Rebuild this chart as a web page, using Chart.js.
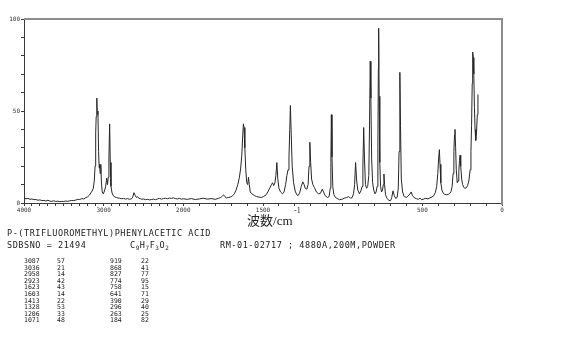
<!DOCTYPE html>
<html>
<head>
<meta charset="utf-8">
<script src="https://cdn.jsdelivr.net/npm/chart.js@4/dist/chart.umd.min.js"></script>
<style>
  body { margin: 0; background: #fff; }
  #wrap { position: relative; width: 570px; height: 342px; overflow: hidden; }
  #spec { position: absolute; left: 0; top: 0; }
  .txt { position: absolute; white-space: pre; color: #222; }
  .mono { font-family: "DejaVu Sans Mono", monospace; font-size: 8.5px; line-height: 9px; letter-spacing: 0.55px; }
  .tbl { font-family: "DejaVu Sans Mono", monospace; font-size: 6.5px; line-height: 6.6px; }
  .axt { font-size: 13px; line-height: 13px; }
  sub { font-size: 6px; vertical-align: -2px; line-height: 0; }
</style>
</head>
<body>
<div id="wrap">
  <canvas id="spec" width="570" height="230"></canvas>
  <div class="txt axt" style="left:247px; top:213px;"><span style="font-family:'Noto Sans CJK JP';">波数</span><span style="font-family:'Liberation Serif';">/cm</span></div>
  <div class="txt" style="left:294px; top:206px; font-family:'Liberation Serif'; font-size:8px;">-1</div>
  <div class="txt mono" style="left:7px; top:229px;">P-(TRIFLUOROMETHYL)PHENYLACETIC ACID</div>
  <div class="txt mono" style="left:7px; top:241px;">SDBSNO = 21494</div>
  <div class="txt mono" style="left:130px; top:241px;">C<sub>9</sub>H<sub>7</sub>F<sub>3</sub>O<sub>2</sub></div>
  <div class="txt mono" style="left:220px; top:241px;">RM-01-02717 ; 4880A,200M,POWDER</div>
  <div id="peaks"></div>
</div>
<script>
// Raman shift (cm-1) / intensity pairs
const spectrum = [
  [4000, 2.6], [3975, 2.3], [3950, 2.5], [3925, 2.0], [3900, 2.2], [3875, 1.8], [3850, 1.9], [3825, 1.5],
  [3800, 1.7], [3775, 1.3], [3750, 1.4], [3725, 1.1], [3700, 1.5], [3675, 1.0], [3650, 0.9], [3625, 1.2],
  [3600, 0.8], [3575, 1.0], [3550, 0.7], [3525, 0.9], [3500, 0.8], [3475, 1.1], [3450, 0.9], [3425, 1.2],
  [3400, 1.4], [3375, 1.3], [3350, 1.6], [3325, 2.0], [3300, 1.9], [3275, 2.4], [3250, 2.2], [3225, 2.9],
  [3200, 3.4], [3180, 4.2], [3160, 5.5], [3145, 6.5], [3130, 8], [3118, 12], [3108, 20], [3100, 38],
  [3094, 47], [3086, 57], [3080, 48], [3072, 50], [3064, 28], [3056, 19], [3050, 21], [3044, 16],
  [3036, 21], [3028, 11], [3018, 6], [3005, 5], [2990, 6.5], [2975, 9], [2962, 13.5], [2952, 10],
  [2942, 14], [2934, 25], [2925, 43], [2917, 22], [2908, 9], [2895, 5.5], [2880, 4], [2860, 3.3],
  [2840, 3.0], [2820, 2.7], [2800, 2.6], [2775, 2.3], [2750, 2.5], [2725, 2.1], [2700, 2.4], [2675, 2.0],
  [2650, 2.3], [2635, 3.2], [2620, 5.6], [2605, 4.2], [2590, 3.0], [2575, 3.5], [2560, 2.6], [2540, 2.4],
  [2520, 2.0], [2500, 2.2], [2475, 1.8], [2450, 2.0], [2425, 1.7], [2400, 1.9], [2375, 2.1], [2350, 1.8],
  [2325, 2.2], [2300, 2.5], [2275, 2.1], [2250, 2.4], [2225, 2.6], [2200, 2.3], [2175, 2.7], [2150, 2.5],
  [2125, 2.8], [2100, 2.4], [2075, 2.2], [2050, 2.5], [2025, 2.1], [2000, 2.3], [1975, 2.0], [1950, 2.4],
  [1925, 1.9], [1900, 2.2], [1875, 2.6], [1850, 2.1], [1825, 2.4], [1800, 2.0], [1780, 2.5], [1765, 3.0],
  [1755, 3.8], [1748, 4.4], [1740, 3.5], [1730, 2.8], [1715, 3.0], [1700, 3.4], [1690, 4.0], [1680, 5.0],
  [1669, 7], [1658, 10], [1648, 14], [1640, 19], [1633, 26], [1627, 37], [1623, 43], [1619, 41],
  [1614, 30], [1608, 18], [1602, 11], [1596, 10], [1591, 14], [1586, 10], [1580, 6], [1570, 5],
  [1553, 4], [1540, 3.5], [1525, 3.2], [1510, 3.0], [1495, 3.6], [1480, 4.5], [1470, 6], [1458, 8],
  [1447, 10], [1440, 11], [1433, 9.5], [1425, 11], [1419, 15], [1413, 22], [1407, 13], [1400, 8],
  [1390, 6], [1378, 5], [1368, 6], [1358, 10], [1350, 15], [1343, 18], [1337, 25], [1332, 40],
  [1328, 53], [1323, 38], [1317, 20], [1308, 11], [1298, 6.5], [1288, 4.5], [1280, 4], [1270, 5.5],
  [1260, 9], [1250, 11.5], [1242, 10], [1235, 8], [1225, 7.5], [1217, 10], [1211, 20], [1206, 33],
  [1201, 22], [1195, 13], [1187, 10], [1178, 8.5], [1165, 6], [1152, 5], [1140, 5.2], [1128, 7.5],
  [1120, 6], [1110, 4], [1095, 3], [1085, 3.5], [1078, 8], [1074, 22], [1071, 48], [1067, 25],
  [1062, 9], [1055, 4.5], [1045, 3], [1035, 2.5], [1020, 1.8], [1005, 2.0], [990, 2.6], [975, 3.0],
  [962, 3.5], [952, 2.6], [940, 3.0], [932, 5], [925, 10], [919, 22], [912, 12], [905, 7],
  [895, 5], [886, 6.5], [878, 9], [873, 20], [868, 41], [863, 24], [857, 10], [850, 8],
  [843, 9], [836, 15], [831, 45], [827, 77], [823, 57], [818, 24], [812, 11], [805, 7],
  [797, 5], [790, 6], [784, 9], [779, 30], [776, 73], [774, 95], [771, 58], [767, 22],
  [762, 9], [756, 6], [750, 7], [745, 10], [741, 15.7], [737, 10], [731, 4.5], [722, 2.5],
  [710, 1.5], [700, 1.2], [692, 3], [684, 6.6], [676, 4], [667, 2.5], [658, 3], [651, 8],
  [646, 28], [641, 71], [637, 42], [632, 13], [624, 6], [614, 3.5], [600, 3], [590, 3.8],
  [578, 4.8], [570, 6], [562, 4], [550, 2.8], [538, 2.4], [525, 2], [515, 2.6], [503, 1.8],
  [490, 2.2], [478, 2.6], [465, 2.2], [452, 2.8], [440, 3.2], [428, 4], [418, 5.8], [410, 9],
  [403, 16], [398, 24], [393, 29], [389, 21], [384, 11], [377, 7], [370, 5.5], [360, 4.7],
  [350, 4.5], [338, 4.6], [328, 5.2], [320, 6.2], [313, 9], [307, 16], [302, 28], [298, 37],
  [295, 40], [291, 30], [287, 18], [281, 11], [276, 12], [271, 17], [267, 23], [263, 26],
  [259, 20], [253, 13], [247, 10], [240, 8.5], [232, 8], [224, 8.3], [216, 9.5], [208, 12],
  [200, 18], [195, 28], [191, 42], [187, 65], [184, 82], [180, 79], [177, 70], [173, 52],
  [169, 40], [165, 34], [160, 38], [155, 48], [151, 59]
];

// peak list printed under the chart
const peakShifts = [3087, 3036, 2958, 2923, 1623, 1603, 1413, 1328, 1206, 1071,
                    919, 868, 827, 774, 758, 641, 390, 296, 263, 184];
const peakIntensities = [57, 21, 14, 42, 43, 14, 22, 53, 33, 48,
                         22, 41, 77, 95, 15, 71, 29, 40, 25, 82];

const xTickLabels = [4000, 3000, 2000, 1500, 500, 0];
const yTickLabels = [0, 50, 100];
const xMinorStep = 100;
const xBreak = 2000; // above this the axis is compressed 2:1

// x axis: 4000-2000 drawn at half the scale of 2000-0
class BrokenScale extends Chart.LinearScale {
  buildTicks() {
    const ticks = [];
    for (let v = 0; v <= 4000; v += xMinorStep) ticks.push({ value: v });
    return ticks;
  }
  toUnits(v) {
    return v > xBreak ? xBreak + (v - xBreak) / 2 : v;
  }
  getPixelForValue(value) {
    const full = this.toUnits(4000);
    return this.getPixelForDecimal(1 - this.toUnits(value) / full);
  }
  getValueForPixel(pixel) {
    const full = this.toUnits(4000);
    const u = (1 - this.getDecimalForPixel(pixel)) * full;
    return u > xBreak ? xBreak + (u - xBreak) * 2 : u;
  }
}
BrokenScale.id = "broken";
BrokenScale.defaults = {};
Chart.register(BrokenScale);

// top and right frame lines
const frame = {
  id: "frame",
  afterDraw(chart) {
    const { ctx, chartArea: a } = chart;
    ctx.save();
    ctx.strokeStyle = "#8c8c8c";
    ctx.lineWidth = 2;
    ctx.beginPath();
    ctx.moveTo(a.left, a.top);
    ctx.lineTo(a.right, a.top);
    ctx.lineTo(a.right, a.bottom + 2);
    ctx.stroke();
    ctx.restore();
  },
};

const tickFont = { family: "DejaVu Sans Mono", size: 6 };

new Chart(document.getElementById("spec"), {
  type: "line",
  data: {
    datasets: [{
      data: spectrum.map(([x, y]) => ({ x, y })),
      borderColor: "#262626",
      borderWidth: 1,
      pointRadius: 0,
      tension: 0,
    }],
  },
  options: {
    responsive: false,
    animation: false,
    devicePixelRatio: 1,
    layout: { padding: { top: 19, right: 68, left: 0, bottom: 0 } },
    plugins: { legend: { display: false }, tooltip: { enabled: false } },
    scales: {
      x: {
        type: "broken",
        min: 0,
        max: 4000,
        afterFit: (s) => { s.height = 27; },
        border: { color: "#3a3a3a", width: 1 },
        grid: { drawOnChartArea: false, drawTicks: true, tickLength: 3, tickColor: "#3a3a3a" },
        ticks: {
          autoSkip: false,
          maxRotation: 0,
          padding: 1,
          color: "#333",
          font: tickFont,
          callback: (v) => (xTickLabels.includes(v) ? String(v) : ""),
        },
      },
      y: {
        min: 0,
        max: 100,
        afterFit: (s) => { s.width = 24; },
        border: { color: "#3a3a3a", width: 1 },
        grid: { drawOnChartArea: false, drawTicks: true, tickLength: 3, tickColor: "#3a3a3a" },
        ticks: {
          stepSize: 10,
          padding: 1,
          color: "#333",
          font: tickFont,
          callback: (v) => (yTickLabels.includes(v) ? String(v) : ""),
        },
      },
    },
  },
  plugins: [frame],
});

// peak table, two blocks of ten rows
const peaksEl = document.getElementById("peaks");
const colX = [[24, 57], [110, 141]];
peakShifts.forEach((s, i) => {
  const block = Math.floor(i / 10);
  const row = i % 10;
  const top = 258 + row * 6.6;
  [[s, colX[block][0]], [peakIntensities[i], colX[block][1]]].forEach(([val, left]) => {
    const d = document.createElement("div");
    d.className = "txt tbl";
    d.style.left = left + "px";
    d.style.top = top + "px";
    d.textContent = String(val);
    peaksEl.appendChild(d);
  });
});
</script>
</body>
</html>
